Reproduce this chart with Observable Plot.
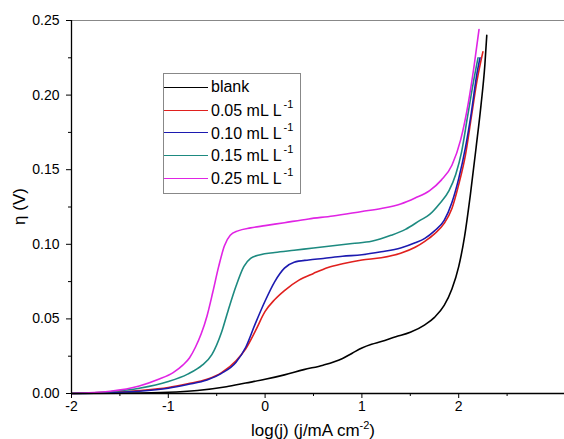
<!DOCTYPE html>
<html><head><meta charset="utf-8">
<script src="https://cdn.jsdelivr.net/npm/d3@7"></script>
<script src="https://cdn.jsdelivr.net/npm/@observablehq/plot@0.6"></script>
<style>
body{margin:0;background:#fff;font-family:"Liberation Sans",Arial,sans-serif;}
#wrap{position:relative;width:564px;height:439px;overflow:hidden;}
#legend{position:absolute;left:163px;top:73px;width:138px;height:121px;border:1px solid #888;background:#fff;box-sizing:border-box;padding-top:2px;}
.row{display:flex;align-items:center;height:22.7px;font-size:16px;color:#000;}
.sw{width:44px;height:0;border-top:1.6px solid #000;margin-right:3px;margin-left:0;}
.row sup{font-size:11px;position:relative;top:-2px;margin-left:2px;}
</style>
</head><body>
<div id="wrap"><div id="chart"></div><div id="legend"></div></div>
<script>
const names = ["blank", "0.05", "0.10", "0.15", "0.25"];
const colors = ["#000000", "#e0201e", "#1c1ab0", "#1d8a80", "#e024e4"];

const blankX = [-2, -1.5, -1.0, -0.7, -0.4, -0.2, 0, 0.2, 0.4, 0.6, 0.8, 0.9, 1.0, 1.1, 1.2, 1.35, 1.5, 1.65, 1.75, 1.85, 1.93, 2.0, 2.06, 2.12, 2.18, 2.23, 2.27, 2.29];
const blankY = [0, 0.0002, 0.0008, 0.002, 0.0045, 0.007, 0.0095, 0.0125, 0.016, 0.019, 0.0235, 0.027, 0.0305, 0.033, 0.0348, 0.038, 0.041, 0.046, 0.051, 0.059, 0.07, 0.085, 0.105, 0.133, 0.165, 0.193, 0.22, 0.24];

const redX = [-2, -1.6, -1.3, -1.0, -0.8, -0.6, -0.45, -0.3, -0.2, -0.1, 0, 0.1, 0.2, 0.35, 0.5, 0.65, 0.8, 1.0, 1.2, 1.4, 1.55, 1.65, 1.75, 1.85, 1.93, 2.0, 2.07, 2.13, 2.19, 2.25];
const redY = [0, 0.0008, 0.002, 0.004, 0.0065, 0.0095, 0.014, 0.022, 0.03, 0.042, 0.055, 0.063, 0.069, 0.076, 0.0805, 0.0845, 0.087, 0.0895, 0.091, 0.094, 0.098, 0.102, 0.107, 0.114, 0.124, 0.14, 0.16, 0.185, 0.21, 0.229];

const blueX = [-2, -1.6, -1.3, -1.0, -0.8, -0.6, -0.45, -0.3, -0.2, -0.1, 0, 0.1, 0.2, 0.3, 0.45, 0.6, 0.8, 1.0, 1.2, 1.4, 1.55, 1.65, 1.75, 1.85, 1.93, 2.0, 2.07, 2.13, 2.19, 2.22];
const blueY = [0, 0.0006, 0.0015, 0.0035, 0.006, 0.009, 0.0135, 0.021, 0.031, 0.047, 0.062, 0.075, 0.084, 0.088, 0.0895, 0.0905, 0.092, 0.093, 0.095, 0.0975, 0.101, 0.104, 0.109, 0.116, 0.128, 0.144, 0.165, 0.188, 0.215, 0.225];

const tealX = [-2, -1.6, -1.3, -1.0, -0.8, -0.65, -0.55, -0.45, -0.38, -0.3, -0.22, -0.15, -0.05, 0.1, 0.3, 0.5, 0.7, 0.9, 1.1, 1.3, 1.45, 1.6, 1.7, 1.8, 1.9, 1.97, 2.03, 2.09, 2.15, 2.2];
const tealY = [0, 0.0012, 0.0035, 0.008, 0.013, 0.019, 0.026, 0.041, 0.056, 0.072, 0.085, 0.0905, 0.093, 0.0945, 0.096, 0.0975, 0.099, 0.1005, 0.102, 0.106, 0.11, 0.116, 0.12, 0.127, 0.136, 0.147, 0.162, 0.185, 0.208, 0.225];

const magX = [-2, -1.6, -1.3, -1.1, -0.95, -0.85, -0.78, -0.72, -0.66, -0.6, -0.54, -0.48, -0.42, -0.36, -0.28, -0.15, 0, 0.2, 0.45, 0.7, 1.0, 1.2, 1.4, 1.55, 1.7, 1.82, 1.93, 2.02, 2.1, 2.16, 2.21];
const magY = [0, 0.0015, 0.005, 0.0095, 0.014, 0.019, 0.024, 0.031, 0.04, 0.052, 0.068, 0.085, 0.099, 0.106, 0.109, 0.111, 0.1125, 0.1145, 0.117, 0.119, 0.122, 0.124, 0.127, 0.131, 0.136, 0.143, 0.153, 0.17, 0.195, 0.22, 0.244];

const xMajor = [-2, -1, 0, 1, 2];
const xMinor = [-1.5, -0.5, 0.5, 1.5, 2.5];
const yMajor = [0, 0.05, 0.10, 0.15, 0.20, 0.25];
const yMinor = [0.025, 0.075, 0.125, 0.175, 0.225];

const allX = [blankX, redX, blueX, tealX, magX];
const allY = [blankY, redY, blueY, tealY, magY];
const data = [];
names.forEach((n, i) => allX[i].forEach((x, j) => data.push({series: n, x, y: allY[i][j]})));

const font = "Liberation Sans, Arial, sans-serif";
const chart = Plot.plot({
  width: 564, height: 439,
  marginLeft: 71, marginRight: 0, marginTop: 20, marginBottom: 46,
  style: {fontFamily: font, fontSize: "14px", color: "#000", background: "#fff"},
  x: {domain: [-2, 3.093], axis: null},
  y: {domain: [0, 0.25], axis: null},
  color: {domain: names, range: colors},
  marks: [
    Plot.ruleY([0.25], {stroke: "#888", strokeWidth: 1.2}),
    Plot.line(data, {x: "x", y: "y", z: "series", stroke: "series", strokeWidth: 1.6, curve: "monotone-x"}),
    Plot.ruleX([-2], {stroke: "#000", strokeWidth: 1.3}),
    Plot.ruleY([0], {stroke: "#000", strokeWidth: 1.3}),
    Plot.axisX({ticks: xMajor, tickSize: 5, tickPadding: 3, tickFormat: d => String(d), label: null, stroke: "#000", fill: "#000", fontSize: 14}),
    Plot.axisX({ticks: xMinor, tickSize: 3, text: null, label: null, stroke: "#000"}),
    Plot.axisY({ticks: yMajor, tickSize: 5, tickPadding: 7, tickFormat: d3.format(".2f"), label: null, stroke: "#000", fill: "#000", fontSize: 14}),
    Plot.axisY({ticks: yMinor, tickSize: 3, text: null, label: null, stroke: "#000"})
  ]
});
document.getElementById("chart").appendChild(chart);

// axis titles
const svg = d3.select(chart);
const xs = chart.scale("x"), ys = chart.scale("y");
const xr = [71, 555];
const xl = svg.append("text")
  .attr("x", (xr[0] + xr[1]) / 2).attr("y", 436)
  .attr("text-anchor", "middle").attr("font-size", 17).attr("font-family", font).attr("fill", "#000");
xl.append("tspan").text("log(j) (j/mA cm");
xl.append("tspan").attr("dy", -7).attr("font-size", 11).text("-2");
xl.append("tspan").attr("dy", 7).text(")");
const yc = (ys.range[0] + ys.range[1]) / 2;
svg.append("text")
  .attr("transform", `translate(25,${yc}) rotate(-90)`)
  .attr("text-anchor", "middle").attr("font-size", 17).attr("font-family", font).attr("fill", "#000")
  .text("η (V)");

// legend
const leg = d3.select("#legend");
names.forEach((n, i) => {
  const row = leg.append("div").attr("class", "row");
  row.append("div").attr("class", "sw").style("border-top-color", colors[i]);
  const t = row.append("span");
  if (n === "blank") t.text("blank");
  else t.html(`${n} mL L<sup>-1</sup>`);
});
</script>
</body></html>
